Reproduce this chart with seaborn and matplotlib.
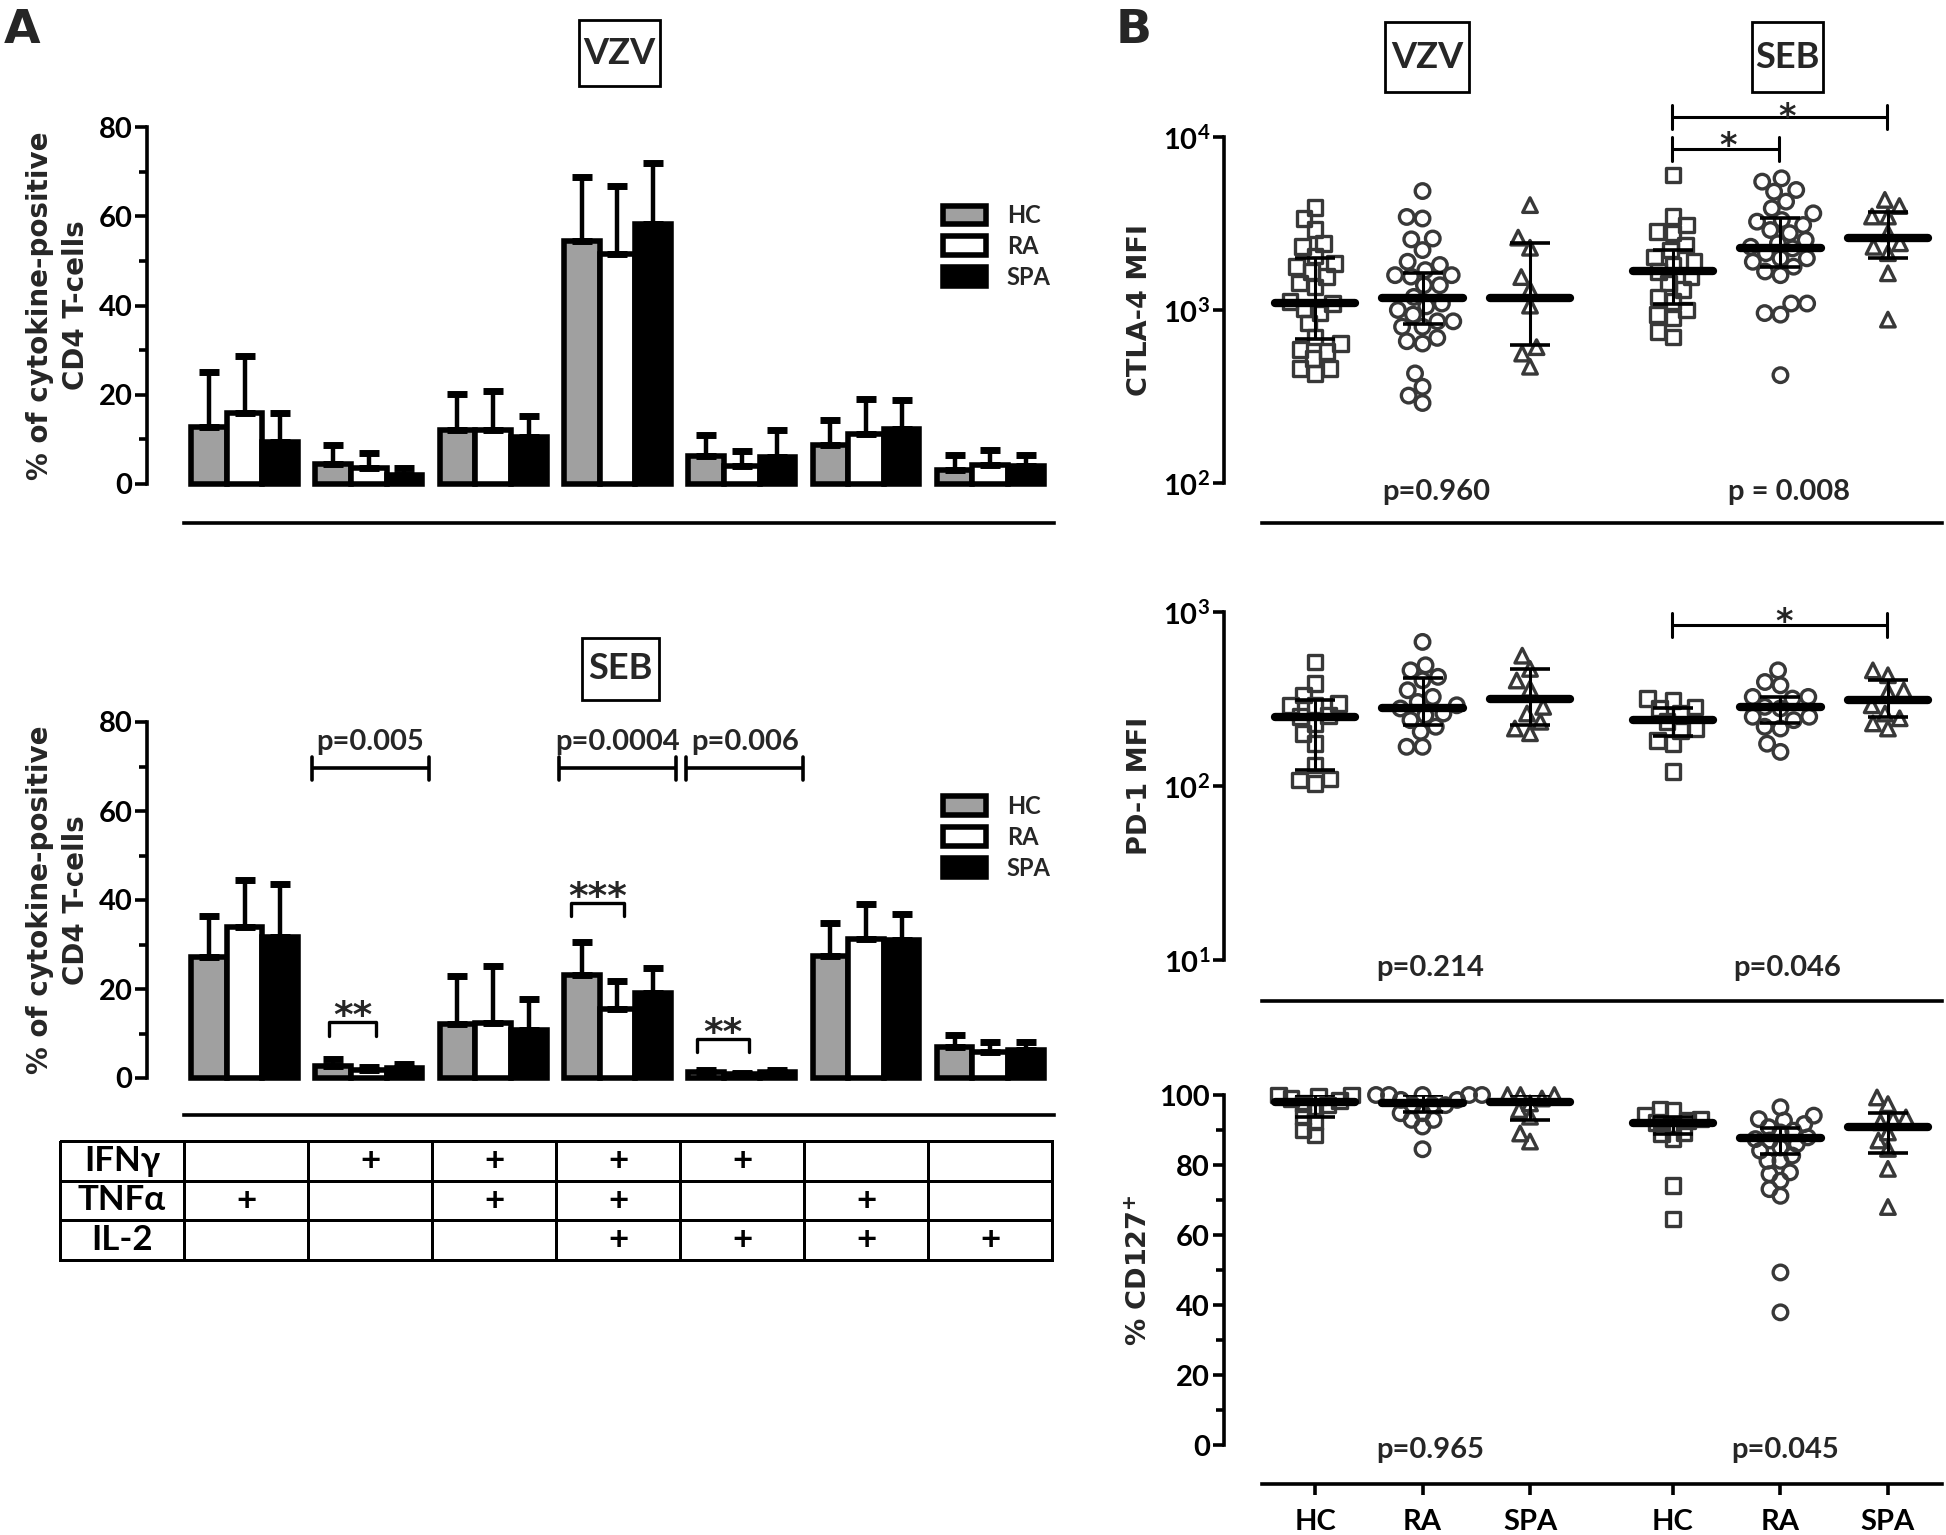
import numpy as np
import pandas as pd
import seaborn as sns
import matplotlib
matplotlib.use('Agg')
import matplotlib.pyplot as plt
from matplotlib.colors import ListedColormap
from matplotlib.patches import Patch, Rectangle
from matplotlib.ticker import NullLocator

# ---------------- panel A data (mean and upper SD, % of CD4 T-cells) ----------------
combos = ['TNFα', 'IFNγ', 'IFNγ TNFα', 'IFNγ TNFα IL-2', 'IFNγ IL-2', 'TNFα IL-2', 'IL-2']
groups = ['HC', 'RA', 'SPA']

vzv_hc_mean = [12.8, 4.4, 12.0, 54.4, 6.2, 8.8, 3.2]
vzv_ra_mean = [15.8, 3.6, 12.2, 51.6, 4.0, 11.2, 4.2]
vzv_spa_mean = [9.4, 2.0, 10.6, 58.2, 6.0, 12.4, 4.0]
vzv_hc_sd = [12.4, 4.4, 8.2, 14.4, 4.8, 5.6, 3.2]
vzv_ra_sd = [12.8, 3.4, 8.6, 15.2, 3.4, 7.8, 3.4]
vzv_spa_sd = [6.4, 1.6, 4.6, 13.8, 6.0, 6.4, 2.4]

seb_hc_mean = [27.3, 2.6, 12.1, 23.2, 1.3, 27.4, 7.0]
seb_ra_mean = [33.9, 1.9, 12.3, 15.5, 0.9, 31.3, 5.9]
seb_spa_mean = [31.6, 2.2, 10.7, 19.2, 1.3, 31.0, 6.3]
seb_hc_sd = [9.1, 1.7, 10.9, 7.3, 0.6, 7.4, 2.7]
seb_ra_sd = [10.7, 0.6, 12.9, 6.2, 0.3, 7.7, 2.3]
seb_spa_sd = [12.1, 1.0, 7.1, 5.6, 0.4, 5.8, 1.9]

# cytokine table below the bars (1 = "+")
cytokines = ['IFNγ', 'TNFα', 'IL-2']
ifng_pos = [0, 1, 1, 1, 1, 0, 0]
tnfa_pos = [1, 0, 1, 1, 0, 1, 0]
il2_pos = [0, 0, 0, 1, 1, 1, 1]

# ---------------- panel B data (VZV HC, RA, SPA, SEB HC, RA, SPA) ----------------
ctla4_vzv_hc = [3910, 3380, 2920, 2430, 2320, 2050, 1860, 1780, 1670, 1560, 1430, 1360, 1120,
                1090, 1020, 960, 840, 700, 640, 590, 575, 525, 460, 460, 430]
ctla4_vzv_ra = [4870, 3450, 3380, 2590, 2560, 2220, 1900, 1820, 1700, 1590, 1590, 1560, 1390,
                1390, 1190, 1090, 1050, 1000, 940, 860, 860, 800, 800, 690, 660, 640, 430, 360,
                320, 290]
ctla4_vzv_spa = [4040, 2620, 2290, 1550, 1310, 1060, 610, 560, 470]
ctla4_seb_hc = [6030, 3470, 3100, 2840, 2780, 2380, 2220, 2030, 1900, 1820, 1670, 1560, 1430,
                1310, 1190, 1120, 1000, 940, 900, 750, 700]
ctla4_seb_ra = [5770, 5520, 4940, 4830, 4230, 3870, 3620, 3310, 3240, 3100, 2900, 2780, 2540,
                2430, 2320, 2270, 2130, 1990, 1990, 1900, 1780, 1670, 1590, 1090, 1090, 960,
                940, 420]
ctla4_seb_spa = [4330, 3990, 3470, 3470, 2780, 2430, 2320, 2130, 1630, 880]
ctla4_median = [1100, 1180, 1170, 1680, 2270, 2620]
ctla4_q1 = [680, 830, 630, 1080, 1780, 1990]
ctla4_q3 = [2010, 1640, 2450, 2220, 3390, 3700]

pd1_vzv_hc = [516, 388, 333, 298, 291, 291, 255, 250, 229, 200, 175, 132, 110, 108, 103]
pd1_vzv_ra = [673, 494, 462, 424, 405, 355, 325, 304, 291, 279, 261, 255, 239, 219, 205, 168, 168]
pd1_vzv_spa = [561, 471, 404, 362, 285, 261, 234, 214, 201]
pd1_seb_hc = [318, 311, 285, 279, 261, 234, 214, 209, 183, 175, 121]
pd1_seb_ra = [462, 396, 379, 325, 325, 318, 285, 279, 250, 250, 239, 219, 214, 175, 157]
pd1_seb_spa = [462, 433, 355, 348, 291, 261, 245, 229, 214]
pd1_median = [250, 281, 316, 239, 283, 311]
pd1_q1 = [124, 223, 224, 193, 229, 250]
pd1_q3 = [311, 420, 471, 279, 325, 405]

cd127_vzv_hc = [100, 100, 99.6, 99.0, 98.5, 97.6, 97.1, 96.2, 93.8, 92.4, 90.0, 88.6]
cd127_vzv_ra = [100, 100, 100, 100, 100, 98.6, 98.6, 97.1, 97.1, 97.1, 94.8, 94.8, 92.9, 92.9,
                91.0, 84.5]
cd127_vzv_spa = [100, 100, 100, 99.0, 97.6, 95.7, 93.8, 89.0, 86.7]
cd127_seb_hc = [96.0, 95.5, 94.1, 93.1, 92.7, 92.2, 91.2, 89.3, 88.9, 87.4, 74.1, 64.6]
cd127_seb_ra = [96.5, 94.1, 93.1, 92.7, 91.7, 90.8, 89.8, 89.3, 87.9, 87.4, 87.0, 86.0, 85.0,
                84.1, 82.7, 81.2, 81.2, 77.9, 77.4, 75.5, 73.1, 71.2, 49.3, 37.9]
cd127_seb_spa = [99.3, 97.4, 93.6, 93.1, 92.2, 89.3, 87.0, 84.6, 78.9, 68.0]
cd127_median = [98.1, 97.6, 97.9, 91.9, 87.8, 90.8]
cd127_q1 = [93.8, 95.2, 92.9, 88.9, 83.1, 83.4]
cd127_q3 = [100, 100, 100, 93.6, 90.5, 94.9]

# ---------------- style ----------------
sns.set_theme(style='ticks', rc={
    'axes.edgecolor': 'black', 'axes.linewidth': 2.6,
    'xtick.color': 'black', 'ytick.color': 'black',
    'xtick.major.width': 2.6, 'ytick.major.width': 2.6, 'ytick.minor.width': 2.6,
})
plt.rcParams['font.family'] = ['Lato', 'DejaVu Sans']
plt.rcParams['font.weight'] = 'bold'
plt.rcParams['mathtext.default'] = 'regular'

W, H = 1946, 1535
PT = 72 / 100  # points per pixel
fig = plt.figure(figsize=(W / 100, H / 100), dpi=100)
STAR = dict(fontfamily='DejaVu Sans', fontweight='bold', ha='center', va='center',
            textcoords='offset points', annotation_clip=False)


def rect(left, top, right, bottom):
    return [left / W, 1 - bottom / H, (right - left) / W, (bottom - top) / H]


def box_title(text, x0, y0, x1, y1):
    fig.add_artist(Rectangle((x0 / W, 1 - y1 / H), (x1 - x0) / W, (y1 - y0) / H,
                             transform=fig.transFigure, fill=False, lw=2, color='black'))
    fig.text((x0 + x1) / 2 / W, 1 - (y0 + y1) / 2 / H, text, ha='center', va='center',
             fontsize=26)


bar_colors = {'HC': '#a0a0a0', 'RA': 'white', 'SPA': 'black'}


def bar_panel(r, means, sds, outward_px, legend_top):
    ax = fig.add_axes(r)
    df = pd.DataFrame({'combo': np.tile(combos, 3),
                       'group': np.repeat(groups, len(combos)),
                       'value': np.concatenate(means)})
    sns.barplot(data=df, x='combo', y='value', hue='group', order=combos, hue_order=groups,
                palette=bar_colors, saturation=1, edgecolor='black', linewidth=4, width=0.86,
                errorbar=None, legend=False, ax=ax)
    for p in ax.patches:
        p.set_clip_on(False)
    offs = (np.arange(3) - 1) * 0.86 / 3
    for k in range(3):
        ax.errorbar(np.arange(len(combos)) + offs[k], means[k],
                    yerr=[np.zeros(len(combos)), sds[k]], fmt='none', ecolor='black',
                    elinewidth=3.2, capsize=7, capthick=5, zorder=1)
    ax.set_xlim(-0.7844, 6.5125)
    ax.set_ylim(0, 80)
    sns.despine(ax=ax)
    ax.spines['left'].set_bounds(0, 80)
    ax.spines['bottom'].set_position(('outward', outward_px * PT))
    ax.spines['bottom'].set_bounds(-0.487, 6.5125)
    ax.tick_params(axis='x', bottom=False, labelbottom=False)
    ax.set_yticks([0, 20, 40, 60, 80])
    ax.set_yticks([10, 30, 50, 70], minor=True)
    ax.tick_params(axis='y', which='major', length=8.5, width=2.6, labelsize=21, pad=2)
    ax.tick_params(axis='y', which='minor', length=6, width=2.6, left=True)
    ax.set_xlabel('')
    ax.set_ylabel('% of cytokine-positive\nCD4 T-cells', fontfamily='DejaVu Sans',
                  fontsize=20, fontweight='bold', linespacing=1.35, va='center')
    ax.yaxis.set_label_coords(-0.098, 0.5)
    handles = [Patch(facecolor=bar_colors[g], edgecolor='black', linewidth=4, label=g)
               for g in groups]
    ax.legend(handles=handles, loc='upper left', bbox_to_anchor=(5.62, legend_top),
              bbox_transform=ax.transData, frameon=False, fontsize=17, handlelength=1.8,
              handleheight=0.85, labelspacing=0.33, handletextpad=0.9, borderpad=0,
              borderaxespad=0)
    return ax


def bracket(ax, x0, x1, y, lo, hi, lw=2.2):
    ax.plot([x0, x1], [y, y], color='black', lw=lw, clip_on=False, solid_capstyle='butt')
    ax.plot([x0, x0], [lo, hi], color='black', lw=lw, clip_on=False)
    ax.plot([x1, x1], [lo, hi], color='black', lw=lw, clip_on=False)


# ---------------- panel A ----------------
fig.text(4 / W, 1 - 43 / H, 'A', fontfamily='DejaVu Sans', fontsize=34, fontweight='bold',
         va='baseline', ha='left')
fig.text(1116 / W, 1 - 43 / H, 'B', fontfamily='DejaVu Sans', fontsize=34, fontweight='bold',
         va='baseline', ha='left')

box_title('VZV', 579, 20, 660, 86)
axA1 = bar_panel(rect(147, 127, 1054, 484), [vzv_hc_mean, vzv_ra_mean, vzv_spa_mean],
                 [vzv_hc_sd, vzv_ra_sd, vzv_spa_sd], 39, 62.7)

box_title('SEB', 582, 638, 659, 700)
axA2 = bar_panel(rect(147, 722, 1054, 1078), [seb_hc_mean, seb_ra_mean, seb_spa_mean],
                 [seb_hc_sd, seb_ra_sd, seb_spa_sd], 37, 63.6)

for x0, x1, txt, tx in [(0.543, 1.484, 'p=0.005', 1.01), (2.53, 3.47, 'p=0.0004', 3.0),
                        (3.55, 4.49, 'p=0.006', 4.03)]:
    bracket(axA2, x0, x1, 69.7, 66.9, 72.1, lw=2.6)
    axA2.text(tx, 75.5, txt, ha='center', va='center', fontsize=21)

for x0, x1, y, txt in [(0.68, 1.06, 12.5, '**'), (2.63, 3.05, 39.4, '***'),
                       (3.64, 4.06, 8.8, '**')]:
    bracket(axA2, x0, x1, y, y - 3, y, lw=2.4)
    axA2.annotate(txt, xy=((x0 + x1) / 2, y + 3.6), xytext=(0, -8), fontsize=27, **STAR)

# cytokine table
tab = fig.add_axes(rect(60, 1141, 1052, 1260))
flags = np.array([ifng_pos, tnfa_pos, il2_pos])
cells = np.column_stack([cytokines, np.where(flags == 1, '+', '')])
sns.heatmap(np.zeros(cells.shape), annot=cells, fmt='', cmap=ListedColormap(['white']),
            vmin=0, vmax=1, cbar=False, linewidths=2, linecolor='black',
            xticklabels=False, yticklabels=False,
            annot_kws={'fontsize': 25, 'fontweight': 'bold', 'color': 'black'}, ax=tab)
tab.collections[0].set_clip_on(False)
tab.set_xlabel('')
tab.set_ylabel('')

# ---------------- panel B ----------------
dot_pos = np.array([0, 1, 2, 3.33, 4.33, 5.33])
dot_markers = ['s', 'o', '^']
dot_labels = ['HC', 'RA', 'SPA', 'HC', 'RA', 'SPA']
MARKER_SIZE = 10.5
swarm_sets = []


def dot_panel(r, series, med, q1, q3, log, outward_px, ylabel, swarm_size):
    ax = fig.add_axes(r)
    if log:
        ax.set_yscale('log')
    n_before = len(ax.collections)
    for k in range(3):
        vals = list(series[k]) + list(series[k + 3])
        xs = [dot_pos[k]] * len(series[k]) + [dot_pos[k + 3]] * len(series[k + 3])
        # swarm laid out with a smaller marker so neighbours overlap like the original
        sns.swarmplot(x=xs, y=vals, native_scale=True, orient='x', marker=dot_markers[k],
                      size=swarm_size, facecolor='none', edgecolor='#383838', linewidth=2.4,
                      ax=ax, clip_on=False, zorder=2, warn_thresh=1)
    swarm_sets.extend(ax.collections[n_before:])
    med, q1, q3 = np.array(med), np.array(q1), np.array(q3)
    ax.errorbar(dot_pos, med, yerr=[med - q1, q3 - med], fmt='none', ecolor='black',
                elinewidth=2.2, capsize=14.5, capthick=2.6, zorder=4)
    ax.hlines(med, dot_pos - 0.375, dot_pos + 0.375, colors='black', linewidth=6,
              capstyle='round', zorder=5)
    ax.set_xlim(-0.847, 5.833)
    sns.despine(ax=ax)
    ax.spines['bottom'].set_position(('outward', outward_px * PT))
    ax.spines['bottom'].set_bounds(-0.493, 5.833)
    ax.set_xlabel('')
    ax.set_ylabel(ylabel, fontfamily='DejaVu Sans', fontsize=19.5, fontweight='bold',
                  va='center')
    ax.yaxis.set_label_coords(-0.117, 0.5)
    ax.tick_params(axis='y', which='major', length=8, width=2.6, labelsize=21, pad=2)
    return ax


def p_text(ax, x, y, txt):
    ax.text(x, y, txt, transform=ax.get_xaxis_transform(), ha='center', va='center',
            fontsize=21)


box_title('VZV', 1385, 22, 1469, 92)
box_title('SEB', 1752, 22, 1823, 92)

axB1 = dot_panel(rect(1224, 137, 1942, 483),
                 [ctla4_vzv_hc, ctla4_vzv_ra, ctla4_vzv_spa,
                  ctla4_seb_hc, ctla4_seb_ra, ctla4_seb_spa],
                 ctla4_median, ctla4_q1, ctla4_q3, True, 40, 'CTLA-4 MFI', 8.5)
axB1.set_ylim(1e2, 1e4)
axB1.set_yticks([1e2, 1e3, 1e4], labels=['$10^{2}$', '$10^{3}$', '$10^{4}$'])
axB1.yaxis.set_minor_locator(NullLocator())
axB1.spines['left'].set_bounds(1e2, 1e4)
axB1.tick_params(axis='x', bottom=False, labelbottom=False)
p_text(axB1, 1.13, -0.026, 'p=0.960')
p_text(axB1, 4.41, -0.026, 'p = 0.008')
bracket(axB1, 3.32, 5.32, 10 ** 4.116, 10 ** 4.046, 10 ** 4.185)
bracket(axB1, 3.32, 4.32, 10 ** 3.93, 10 ** 3.861, 10 ** 4.0)
axB1.annotate('*', xy=(4.39, 10 ** 4.168), xytext=(0, -7), fontsize=24, **STAR)
axB1.annotate('*', xy=(3.84, 10 ** 4.0), xytext=(0, -7), fontsize=24, **STAR)

axB2 = dot_panel(rect(1224, 612, 1942, 960),
                 [pd1_vzv_hc, pd1_vzv_ra, pd1_vzv_spa,
                  pd1_seb_hc, pd1_seb_ra, pd1_seb_spa],
                 pd1_median, pd1_q1, pd1_q3, True, 41, 'PD-1 MFI', 8.5)
axB2.set_ylim(1e1, 1e3)
axB2.set_yticks([1e1, 1e2, 1e3], labels=['$10^{1}$', '$10^{2}$', '$10^{3}$'])
axB2.yaxis.set_minor_locator(NullLocator())
axB2.spines['left'].set_bounds(1e1, 1e3)
axB2.tick_params(axis='x', bottom=False, labelbottom=False)
p_text(axB2, 1.07, -0.023, 'p=0.214')
p_text(axB2, 4.39, -0.023, 'p=0.046')
bracket(axB2, 3.32, 5.32, 10 ** 2.925, 10 ** 2.856, 10 ** 2.994)
axB2.annotate('*', xy=(4.36, 10 ** 2.994), xytext=(0, -7), fontsize=24, **STAR)

axB3 = dot_panel(rect(1224, 1095, 1942, 1445),
                 [cd127_vzv_hc, cd127_vzv_ra, cd127_vzv_spa,
                  cd127_seb_hc, cd127_seb_ra, cd127_seb_spa],
                 cd127_median, cd127_q1, cd127_q3, False, 39,
                 '% CD127$^{+}$', 6.5)
axB3.set_ylim(0, 100)
axB3.set_yticks([0, 20, 40, 60, 80, 100])
axB3.set_yticks([10, 30, 50, 70, 90], minor=True)
axB3.tick_params(axis='y', which='minor', length=6, width=2.6, left=True)
axB3.spines['left'].set_bounds(0, 100)
axB3.set_xticks(dot_pos, labels=dot_labels)
axB3.tick_params(axis='x', length=8, width=2.6, labelsize=21, pad=10)
p_text(axB3, 1.07, -0.014, 'p=0.965')
p_text(axB3, 4.37, -0.014, 'p=0.045')

# freeze the swarm layout, then draw the markers at full size
fig.canvas.draw()
for coll in swarm_sets:
    coll.__dict__.pop('draw', None)
    coll.set_sizes([MARKER_SIZE ** 2])

fig.savefig('out.png', dpi=100)
